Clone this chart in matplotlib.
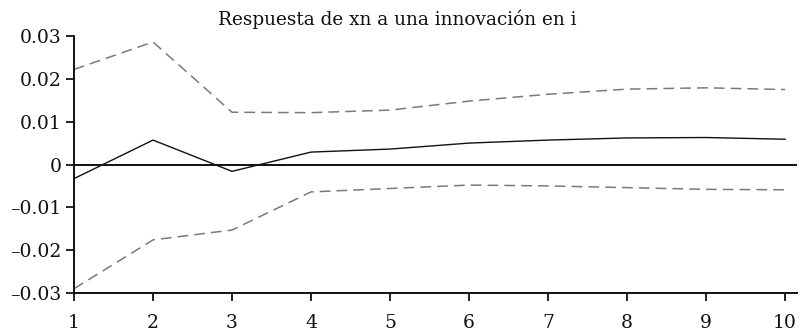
import matplotlib
matplotlib.use("Agg")
import matplotlib.pyplot as plt

# Impulse response of xn to a shock in i, with confidence bands
periods = [1, 2, 3, 4, 5, 6, 7, 8, 9, 10]
response = [-0.0033, 0.0057, -0.0016, 0.0029, 0.0036, 0.0050, 0.0057, 0.0062, 0.0063, 0.0059]
upper_band = [0.0222, 0.0286, 0.0122, 0.0121, 0.0127, 0.0148, 0.0164, 0.0176, 0.0179, 0.0175]
lower_band = [-0.0290, -0.0176, -0.0153, -0.0064, -0.0056, -0.0048, -0.0050, -0.0054, -0.0058, -0.0059]
yticks = [-0.03, -0.02, -0.01, 0, 0.01, 0.02, 0.03]
ytick_labels = ["\u20130.03", "\u20130.02", "\u20130.01", "0", "0.01", "0.02", "0.03"]
title = "Respuesta de xn a una innovación en i"

plt.rcParams["font.family"] = ["DejaVu Serif"]

fig = plt.figure(figsize=(8.02, 3.34), dpi=100)
ax = fig.add_axes([74 / 802, 1 - 293 / 334, (797 - 74) / 802, (293 - 36) / 334])

ax.plot(periods, upper_band, color="#7a7a7a", lw=1.1, dashes=(7, 4))
ax.plot(periods, lower_band, color="#7a7a7a", lw=1.1, dashes=(7, 4))
ax.plot(periods, response, color="#111111", lw=1.0)
ax.axhline(0, color="#111111", lw=1.4)

ax.set_xlim(1, 10.15)
ax.set_ylim(-0.03, 0.03)
ax.set_xticks(periods)
ax.set_xticklabels([str(p) for p in periods])
ax.set_yticks(yticks)
ax.set_yticklabels(ytick_labels)

for side in ("top", "right"):
    ax.spines[side].set_visible(False)
for side in ("left", "bottom"):
    ax.spines[side].set_linewidth(1.4)
    ax.spines[side].set_color("#111111")
ax.tick_params(axis="both", direction="out", length=6, width=1.3, color="#111111",
               labelsize=13.5, labelcolor="#111111")
ax.tick_params(axis="x", pad=9)
ax.tick_params(axis="y", pad=3)

fig.text(0.495, 1 - 19.5 / 334, title, ha="center", va="center", fontsize=13.3, color="#111111")

fig.savefig("out.png", dpi=100)
